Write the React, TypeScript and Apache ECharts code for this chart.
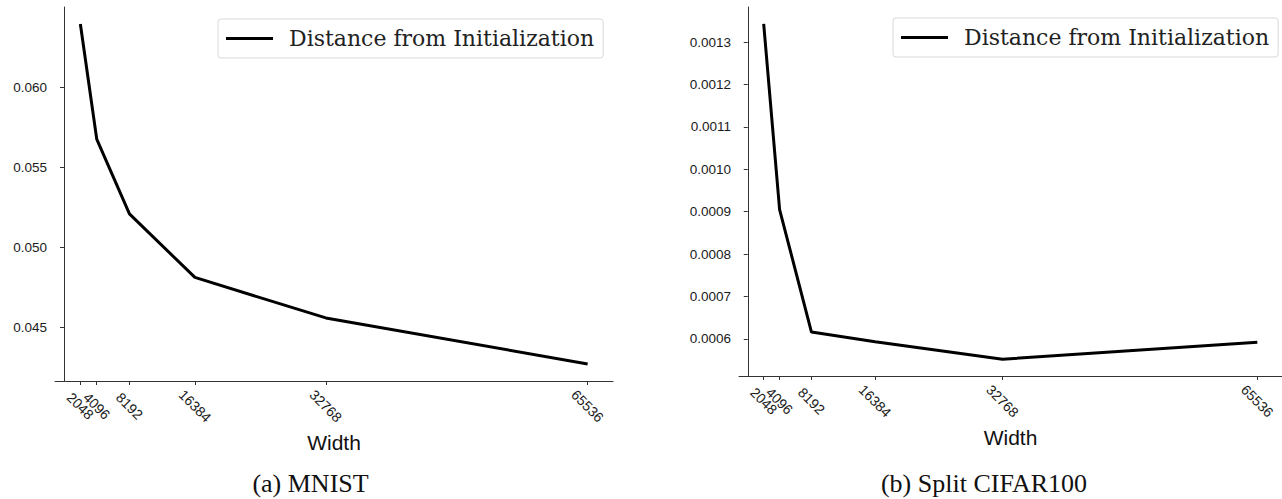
import React, { useEffect, useRef } from "react";
import * as echarts from "echarts";

const widths = [2048, 4096, 8192, 16384, 32768, 65536];
const crowdedWidths = [4096];
const mnistDistance = [0.06398, 0.05679, 0.05211, 0.04814, 0.04561, 0.04273];
const cifarDistance = [0.001343, 0.000905, 0.000616, 0.000593, 0.000552, 0.000592];
const mnistTicks = [0.045, 0.05, 0.055, 0.06];
const cifarTicks = [0.0006, 0.0007, 0.0008, 0.0009, 0.001, 0.0011, 0.0012, 0.0013];
const seriesName = "Distance from Initialization";
const captions = ["(a) MNIST", "(b) Split CIFAR100"];

const pad = (arr: number[]) => {
  const lo = Math.min(...arr);
  const hi = Math.max(...arr);
  const m = (hi - lo) * 0.05;
  return [lo - m, hi + m];
};

export default function App() {
  const ref = useRef<HTMLDivElement>(null);
  useEffect(() => {
    document.body.style.margin = "0";
    if (!ref.current) return;
    const chart = echarts.init(ref.current, null, { renderer: "svg" });
    const [xmin, xmax] = pad(widths);
    const [y1min, y1max] = pad(mnistDistance);
    const [y2min, y2max] = pad(cifarDistance);
    const axisColor = "#333";
    const tickFont = { fontFamily: "Liberation Sans", fontSize: 13.5, color: "#1a1a1a" };
    const xLabel = (values: number[]) => ({
      ...tickFont,
      fontSize: 14,
      customValues: values,
      rotate: -45,
      align: "center",
      verticalAlign: "middle",
      margin: 25,
      showMinLabel: true,
      showMaxLabel: true,
      hideOverlap: false,
      formatter: (v: number) => String(v),
    });
    const mkX = (gridIndex: number) => ({
      type: "value",
      gridIndex,
      position: "bottom",
      min: xmin,
      max: xmax,
      name: "Width",
      nameLocation: "middle",
      nameGap: 50,
      nameTextStyle: { fontFamily: "Liberation Sans", fontSize: 21, color: "#111" },
      axisLine: { show: true, lineStyle: { color: axisColor, width: 1 } },
      axisTick: { show: true, length: 4, customValues: widths, lineStyle: { color: axisColor } },
      axisLabel: xLabel(widths.filter((w) => !crowdedWidths.includes(w))),
      splitLine: { show: false },
    });
    const mkXExtra = (gridIndex: number) => ({
      type: "value",
      gridIndex,
      position: "bottom",
      offset: 0,
      min: xmin,
      max: xmax,
      axisLine: { show: false },
      axisTick: { show: false },
      axisLabel: xLabel(crowdedWidths),
      splitLine: { show: false },
    });
    const mkY = (gridIndex: number, min: number, max: number, ticks: number[], dec: number) => ({
      type: "value",
      gridIndex,
      min,
      max,
      axisLine: { show: true, lineStyle: { color: axisColor, width: 1 } },
      axisTick: { show: true, length: 4, customValues: ticks, lineStyle: { color: axisColor } },
      axisLabel: {
        ...tickFont,
        customValues: ticks,
        margin: 8,
        showMinLabel: true,
        showMaxLabel: true,
        formatter: (v: number) => v.toFixed(dec),
      },
      splitLine: { show: false },
    });
    const legendBase = {
      data: [seriesName],
      orient: "horizontal",
      icon: "rect",
      itemWidth: 47,
      itemHeight: 3,
      padding: [8, 9, 8, 8],
      borderColor: "#d9d9d9",
      borderWidth: 1,
      borderRadius: 3,
      backgroundColor: "#fff",
      selectedMode: false,
      itemStyle: { color: "#000" },
      textStyle: {
        fontFamily: "DejaVu Serif",
        fontSize: 22,
        color: "#222",
        lineHeight: 23,
        padding: [0, 0, 0, 11],
      },
    };
    chart.setOption({
      animation: false,
      backgroundColor: "#fff",
      grid: [
        { left: 55, top: 7, width: 558, height: 374, outerBoundsMode: "none", containLabel: false },
        { left: 739, top: 7, width: 543, height: 369, outerBoundsMode: "none", containLabel: false },
      ],
      xAxis: [mkX(0), mkX(1), mkXExtra(0), mkXExtra(1)],
      yAxis: [mkY(0, y1min, y1max, mnistTicks, 3), mkY(1, y2min, y2max, cifarTicks, 4)],
      legend: [
        { ...legendBase, left: 218, top: 19 },
        { ...legendBase, left: 893, top: 18 },
      ],
      series: [
        {
          name: seriesName,
          type: "line",
          xAxisIndex: 0,
          yAxisIndex: 0,
          data: widths.map((w, i) => [w, mnistDistance[i]]),
          symbol: "none",
          lineStyle: { color: "#000", width: 3 },
          itemStyle: { color: "#000" },
        },
        {
          name: seriesName,
          type: "line",
          xAxisIndex: 1,
          yAxisIndex: 1,
          data: widths.map((w, i) => [w, cifarDistance[i]]),
          symbol: "none",
          lineStyle: { color: "#000", width: 3 },
          itemStyle: { color: "#000" },
        },
      ],
      graphic: [
        {
          type: "text",
          x: 310.5,
          y: 496,
          style: {
            text: captions[0],
            fontFamily: "Liberation Serif",
            fontSize: 26,
            fill: "#111",
            textAlign: "center",
            textVerticalAlign: "bottom",
          },
        },
        {
          type: "text",
          x: 984,
          y: 496,
          style: {
            text: captions[1],
            fontFamily: "Liberation Serif",
            fontSize: 26,
            fill: "#111",
            textAlign: "center",
            textVerticalAlign: "bottom",
          },
        },
      ],
    });
    return () => chart.dispose();
  }, []);
  return <div ref={ref} style={{ width: 1282, height: 499 }} />;
}
